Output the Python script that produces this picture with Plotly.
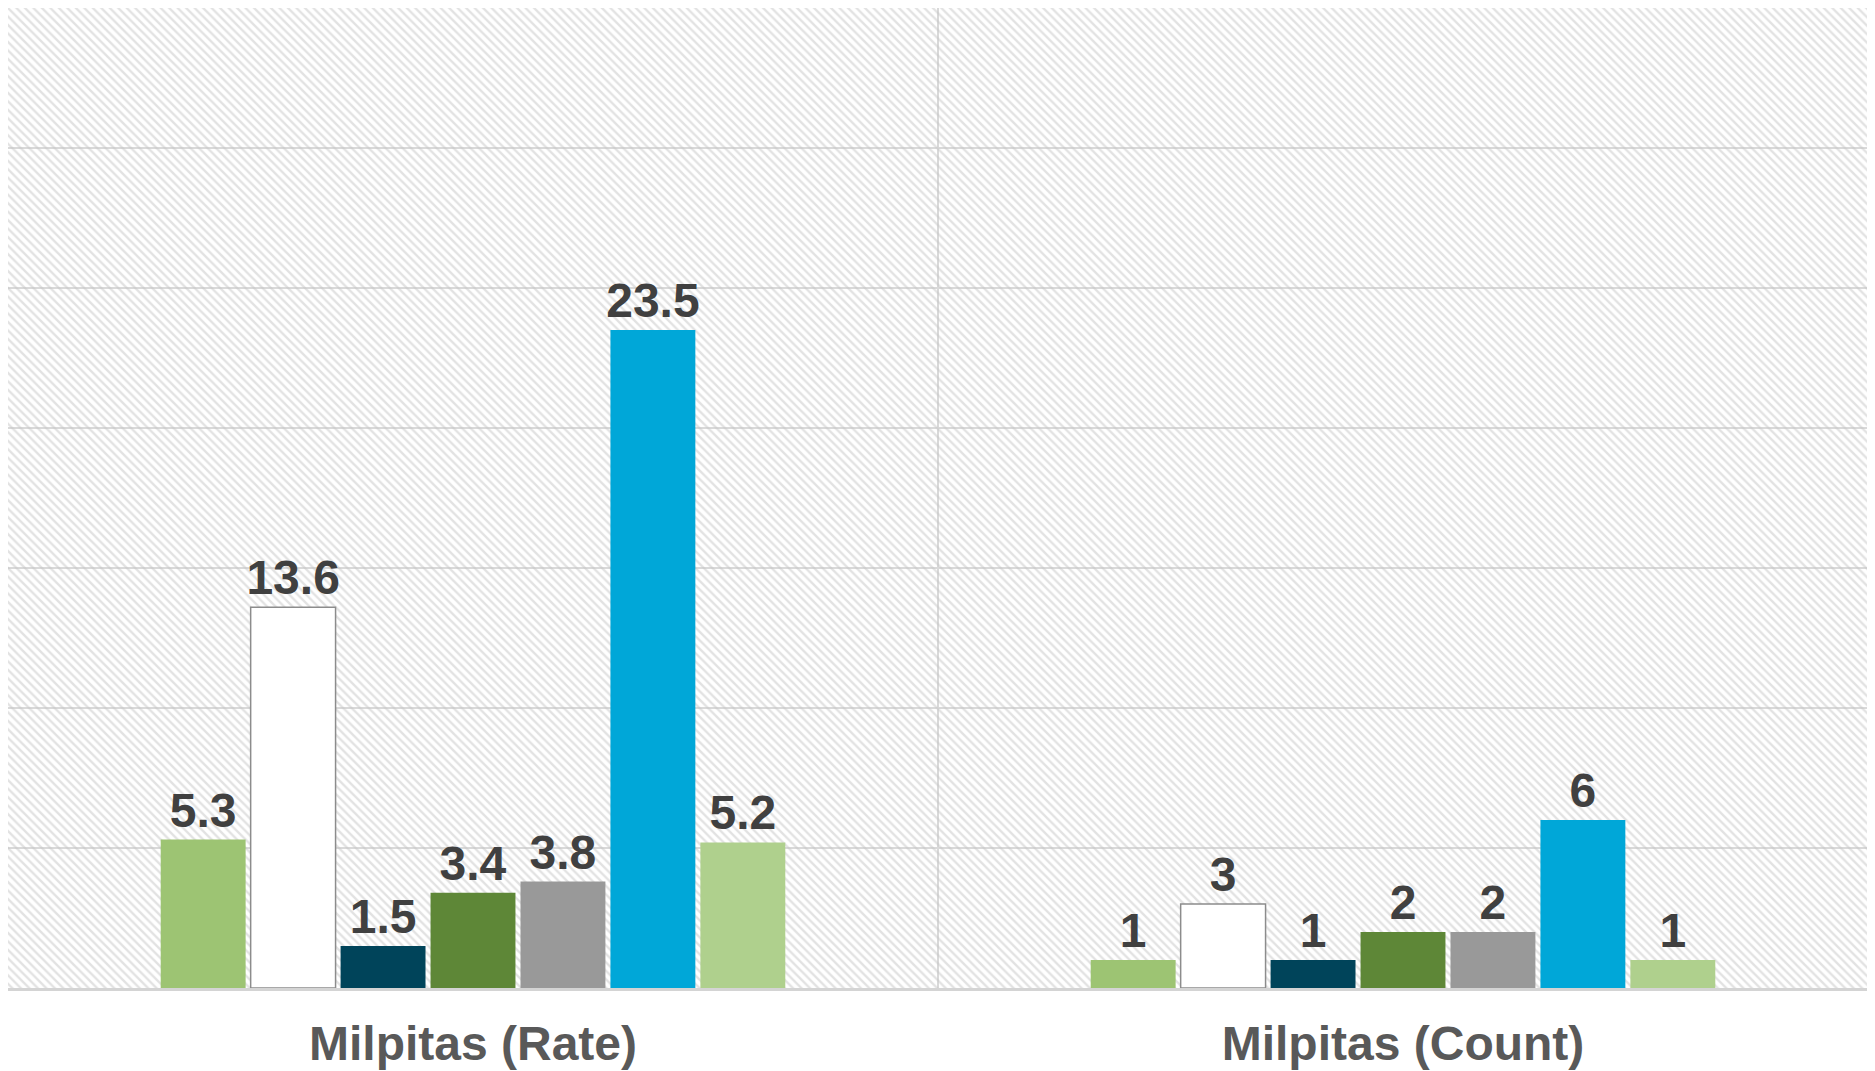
import plotly.graph_objects as go

categories = ["Milpitas (Rate)", "Milpitas (Count)"]
series_names = ["Series 1", "Series 2", "Series 3", "Series 4", "Series 5", "Series 6", "Series 7"]
series_values = [
    [5.3, 1],
    [13.6, 3],
    [1.5, 1],
    [3.4, 2],
    [3.8, 2],
    [23.5, 6],
    [5.2, 1],
]
series_colors = ["#9DC473", "#FFFFFF", "#00445A", "#5E8737", "#999999", "#00A7D8", "#AFD08D"]
series_lines = ["#9DC473", "#8C8C8C", "#00445A", "#5E8737", "#999999", "#00A7D8", "#AFD08D"]

FONT = "Arial, Liberation Sans, sans-serif"

fig = go.Figure()

# hatched plot background (on the base axes, drawn below the bars)
fig.add_trace(go.Scatter(
    x=[0, 1, 1, 0, 0], y=[0, 0, 1, 1, 0],
    xaxis="x", yaxis="y",
    mode="lines", fill="toself",
    line=dict(width=0, color="rgba(0,0,0,0)"),
    fillcolor="rgba(0,0,0,0)",
    fillpattern=dict(shape="\\", fgcolor="#c6c6c6", bgcolor="rgba(0,0,0,0)",
                     size=6, solidity=0.4),
    hoverinfo="skip", showlegend=False,
))

for name, vals, col, lc in zip(series_names, series_values, series_colors, series_lines):
    fig.add_trace(go.Bar(
        name=name, x=categories, y=vals,
        xaxis="x2", yaxis="y2",
        marker=dict(color=col, line=dict(color=lc, width=1.5 if col == "#FFFFFF" else 0)),
        text=[str(v) for v in vals], textposition="outside", constraintext="none",
        textfont=dict(family=FONT, size=48, color="#404040", weight="bold"),
        cliponaxis=False,
    ))

fig.update_layout(
    width=1867, height=1063,
    margin=dict(l=0, r=7, t=0, b=83),
    paper_bgcolor="white", plot_bgcolor="white",
    showlegend=False,
    barmode="group", bargap=0.323, bargroupgap=0.056,
    xaxis=dict(range=[0, 1], visible=False, fixedrange=True),
    yaxis=dict(range=[0, 1], visible=False, fixedrange=True),
    xaxis2=dict(
        overlaying="x", type="category", tickson="boundaries",
        showgrid=True, gridcolor="#d9d9d9", gridwidth=2,
        showline=True, linecolor="#d4d4d4", linewidth=3, mirror=True,
        ticks="", ticklabelstandoff=11, automargin=False,
        tickfont=dict(family=FONT, size=48, color="#595959", weight="bold"),
    ),
    yaxis2=dict(
        overlaying="y", range=[0, 35], dtick=5,
        showgrid=True, gridcolor="#d9d9d9", gridwidth=2,
        showline=True, linecolor="#d9d9d9", linewidth=2, mirror=True,
        showticklabels=False, zeroline=False, ticks="", automargin=False,
    ),
)

fig.write_html("out.html")
